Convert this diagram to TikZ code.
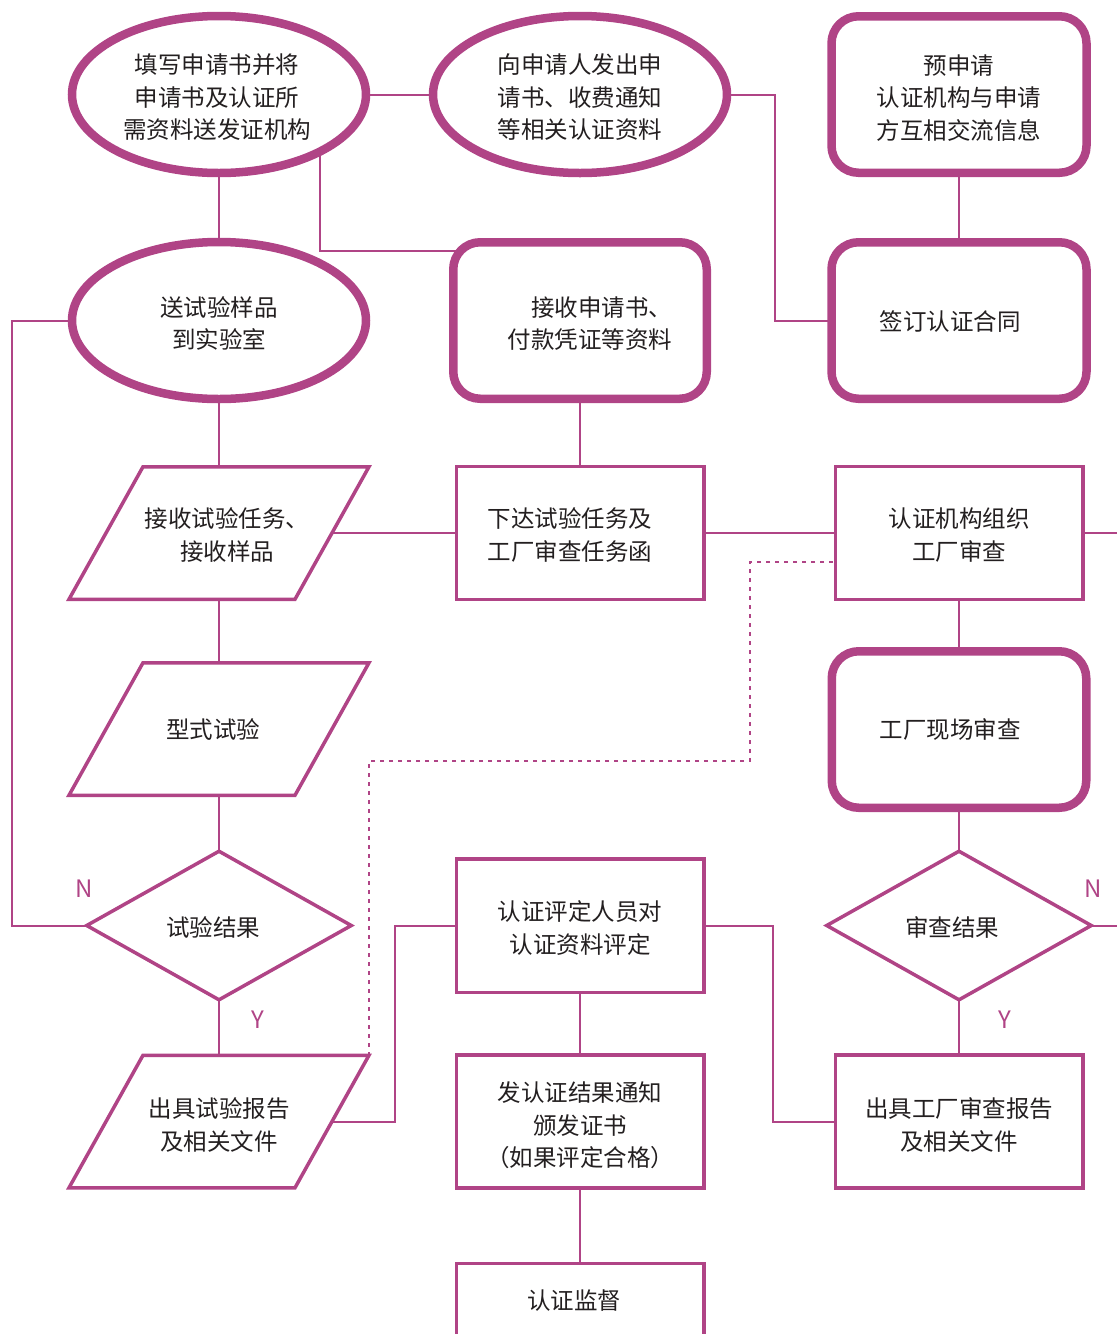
\documentclass[tikz,border=0pt]{standalone}
\usepackage{fontspec}
\newfontfamily\cjk{Noto Sans CJK SC}
\usetikzlibrary{shapes.geometric,backgrounds}
\definecolor{pur}{RGB}{176,68,134}
\definecolor{ink}{RGB}{35,31,32}
\begin{document}
\begin{tikzpicture}[x=1pt,y=-1pt,
  thickshape/.style={draw=pur,line width=8.5pt,fill=white,inner sep=0pt},
  oval/.style={thickshape,ellipse,minimum width=294pt,minimum height=157pt},
  rbox/.style={thickshape,rectangle,rounded corners=27pt,minimum width=255pt,minimum height=156.5pt},
  box/.style={draw=pur,line width=3.5pt,fill=white,rectangle,minimum width=247.5pt,minimum height=133pt,inner sep=0pt},
  dia/.style={draw=pur,line width=3.5pt,fill=white,diamond,minimum width=266pt,minimum height=150pt,inner sep=0pt},
  pbase/.style={rectangle,minimum width=300pt,minimum height=132.5pt,inner sep=0pt,outer sep=0pt},
  para/.style={draw=pur,line width=3.5pt,fill=white,line join=miter},
  conn/.style={draw=pur,line width=2pt},
  dotline/.style={draw=pur,line width=2pt,dash pattern=on 4pt off 5pt},
  txt/.style={text=ink,font=\cjk\fontsize{23.5}{32.5}\selectfont,align=center,inner sep=0pt},
  yn/.style={text=pur,font=\cjk\fontsize{24}{28}\selectfont,inner sep=0pt}]
\useasboundingbox (0,0) rectangle (1117,1334);
% shapes
\node[oval] (e1) at (219,94.5) {};
\node[oval] (e2) at (580,94.5) {};
\node[rbox] (pre) at (959,94.5) {};
\node[oval] (e3) at (219,320.5) {};
\node[rbox,minimum width=253.5pt] (recv) at (580,320.5) {};
\node[rbox] (sign) at (959,320.5) {};
\node[pbase] (p1) at (219,533) {};
\draw[para] ([xshift=74pt]p1.north west) -- (p1.north east) -- ([xshift=-74pt]p1.south east) -- (p1.south west) -- cycle;
\node[box] (task) at (580,533) {};
\node[box] (org) at (959,533) {};
\node[pbase] (p2) at (219,729) {};
\draw[para] ([xshift=74pt]p2.north west) -- (p2.north east) -- ([xshift=-74pt]p2.south east) -- (p2.south west) -- cycle;
\node[rbox,minimum width=254.5pt] (site) at (959,729.5) {};
\node[dia] (d1) at (219,925.5) {};
\node[dia] (d2) at (959,925.5) {};
\node[box,minimum height=133.5pt] (eval) at (580,925.5) {};
\node[pbase] (p3) at (219,1121.5) {};
\draw[para] ([xshift=74pt]p3.north west) -- (p3.north east) -- ([xshift=-74pt]p3.south east) -- (p3.south west) -- cycle;
\node[box] (issue) at (580,1121.5) {};
\node[box] (frep) at (959,1121.5) {};
\node[box] (sup) at (580,1330) {};
% texts
\node[txt] (t1) at (217,97.5) {填写申请书并将\\申请书及认证所\\需资料送发证机构};
\node[txt] (t2) at (580,97.5) {向申请人发出申\\请书、收费通知\\等相关认证资料};
\node[txt] (t3) at (959,98) {预申请\\认证机构与申请\\方互相交流信息};
\node[txt] (t4) at (219,323.5) {送试验样品\\到实验室};
\node[txt,align=right] (t5) at (590,323.5) {接收申请书、\\付款凭证等资料};
\node[txt] (t6) at (950,322) {签订认证合同};
\node[txt] (t7) at (227,535) {接收试验任务、\\接收样品};
\node[txt] (t8) at (570,535) {下达试验任务及\\工厂审查任务函};
\node[txt] (t9) at (959,535) {认证机构组织\\工厂审查};
\node[txt] (t10) at (213,730) {型式试验};
\node[txt] (t11) at (950,730) {工厂现场审查};
\node[txt] (t12) at (213,927) {试验结果};
\node[txt] (t13) at (952,927) {审查结果};
\node[txt] (t14) at (580,928) {认证评定人员对\\认证资料评定};
\node[txt] (t15) at (219,1125) {出具试验报告\\及相关文件};
\node[txt] (t16) at (580,1125.5) {发认证结果通知\\颁发证书\\（如果评定合格）};
\node[txt] (t17) at (959,1125) {出具工厂审查报告\\及相关文件};
\node[txt] (t18) at (574,1301) {认证监督};
\node[yn] (n1) at (84,889) {N};
\node[yn] (n2) at (1093,889) {N};
\node[yn] (y1) at (258,1020) {Y};
\node[yn] (y2) at (1005,1020) {Y};
% connectors
\coordinate (lx) at (12,600);
\coordinate (cx1) at (320,251);
\coordinate (cx2) at (775,200);
\coordinate (cx3) at (395,1000);
\coordinate (cx4) at (773,1000);
\coordinate (rx) at (1125,0);
\coordinate (dB) at (750,761);
\begin{scope}[on background layer]
\draw[conn] (e1.center) -- (e2.center);
\draw[conn] (e1.center) -- (e3.center);
\draw[conn] (cx1 |- e1.center) -- (cx1) -- (recv.center |- cx1);
\draw[conn] (e2.center) -| (cx2) |- (sign.center);
\draw[conn] (pre.center) -- (sign.center);
\draw[conn] (e3.center) -| (lx) |- (d1.center);
\draw[conn] (e3.center) -- (p1.center);
\draw[conn] (recv.center) -- (task.center);
\draw[conn] (p1.center) -- (task.center);
\draw[conn] (task.center) -- (org.center);
\draw[conn] (org.center) -- (rx |- org.center);
\draw[conn] (org.center) -- (site.center);
\draw[conn] (p1.center) -- (p2.center);
\draw[conn] (p2.center) -- (d1.center);
\draw[conn] (site.center) -- (d2.center);
\draw[conn] (d1.center) -- (p3.center);
\draw[conn] (d2.center) -- (frep.center);
\draw[conn] (d2.center) -- (rx |- d2.center);
\draw[conn] (p3.center) -| (cx3) |- (eval.center);
\draw[conn] (eval.center) -- (issue.center);
\draw[conn] (issue.center) -- (sup.center);
\draw[conn] (eval.center) -| (cx4) |- (frep.center);
\draw[dotline] ([yshift=-29pt]org.center) -| (dB) -| (p3.north east);
\end{scope}
\end{tikzpicture}
\end{document}
